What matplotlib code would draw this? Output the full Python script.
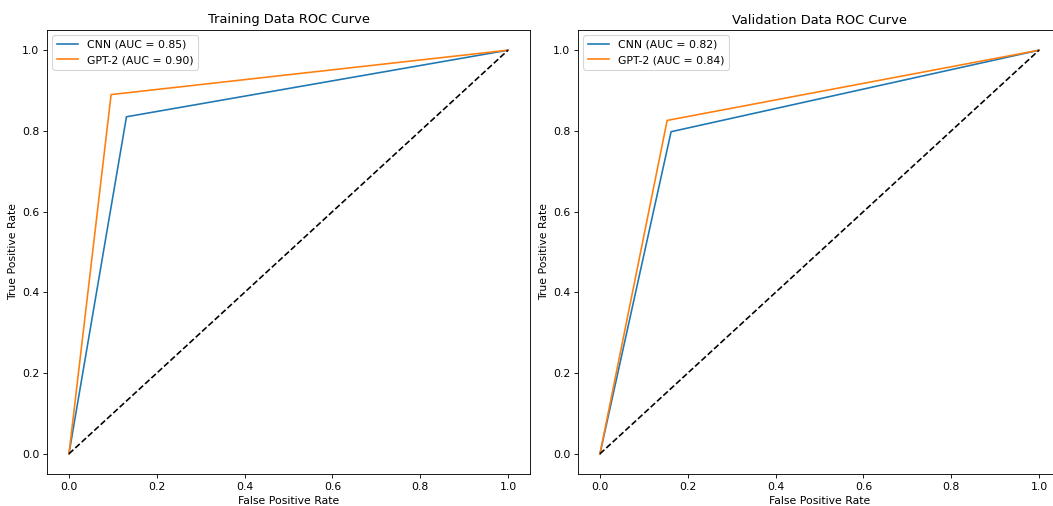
import matplotlib
matplotlib.use('Agg')
import matplotlib.pyplot as plt

# ROC points (binary predictions -> one corner point per curve)
train_cnn_fpr = [0.0, 0.131, 1.0]
train_cnn_tpr = [0.0, 0.835, 1.0]
train_gpt_fpr = [0.0, 0.096, 1.0]
train_gpt_tpr = [0.0, 0.890, 1.0]

val_cnn_fpr = [0.0, 0.162, 1.0]
val_cnn_tpr = [0.0, 0.798, 1.0]
val_gpt_fpr = [0.0, 0.153, 1.0]
val_gpt_tpr = [0.0, 0.826, 1.0]

train_auc = {'CNN': 0.85, 'GPT-2': 0.90}
val_auc = {'CNN': 0.82, 'GPT-2': 0.84}

# the reference looks like a scaled-down render, so draw at a lower dpi
DPI = 78
W, H = 1053, 506
fig = plt.figure(figsize=(W / DPI, H / DPI), dpi=DPI)
ax1 = fig.add_axes([47 / W, 32 / H, 483 / W, 444 / H])
ax2 = fig.add_axes([578 / W, 32 / H, 483 / W, 444 / H])


def draw(ax, cnn_fpr, cnn_tpr, gpt_fpr, gpt_tpr, auc, title):
    ax.plot(cnn_fpr, cnn_tpr, label=f"CNN (AUC = {auc['CNN']:.2f})")
    ax.plot(gpt_fpr, gpt_tpr, label=f"GPT-2 (AUC = {auc['GPT-2']:.2f})")
    ax.plot([0, 1], [0, 1], 'k--')
    ax.set_xlabel('False Positive Rate')
    ax.set_ylabel('True Positive Rate')
    ax.set_title(title)
    ax.legend(loc='upper left')


draw(ax1, train_cnn_fpr, train_cnn_tpr, train_gpt_fpr, train_gpt_tpr,
     train_auc, 'Training Data ROC Curve')
draw(ax2, val_cnn_fpr, val_cnn_tpr, val_gpt_fpr, val_gpt_tpr,
     val_auc, 'Validation Data ROC Curve')

plt.savefig('out.png', dpi=DPI)
